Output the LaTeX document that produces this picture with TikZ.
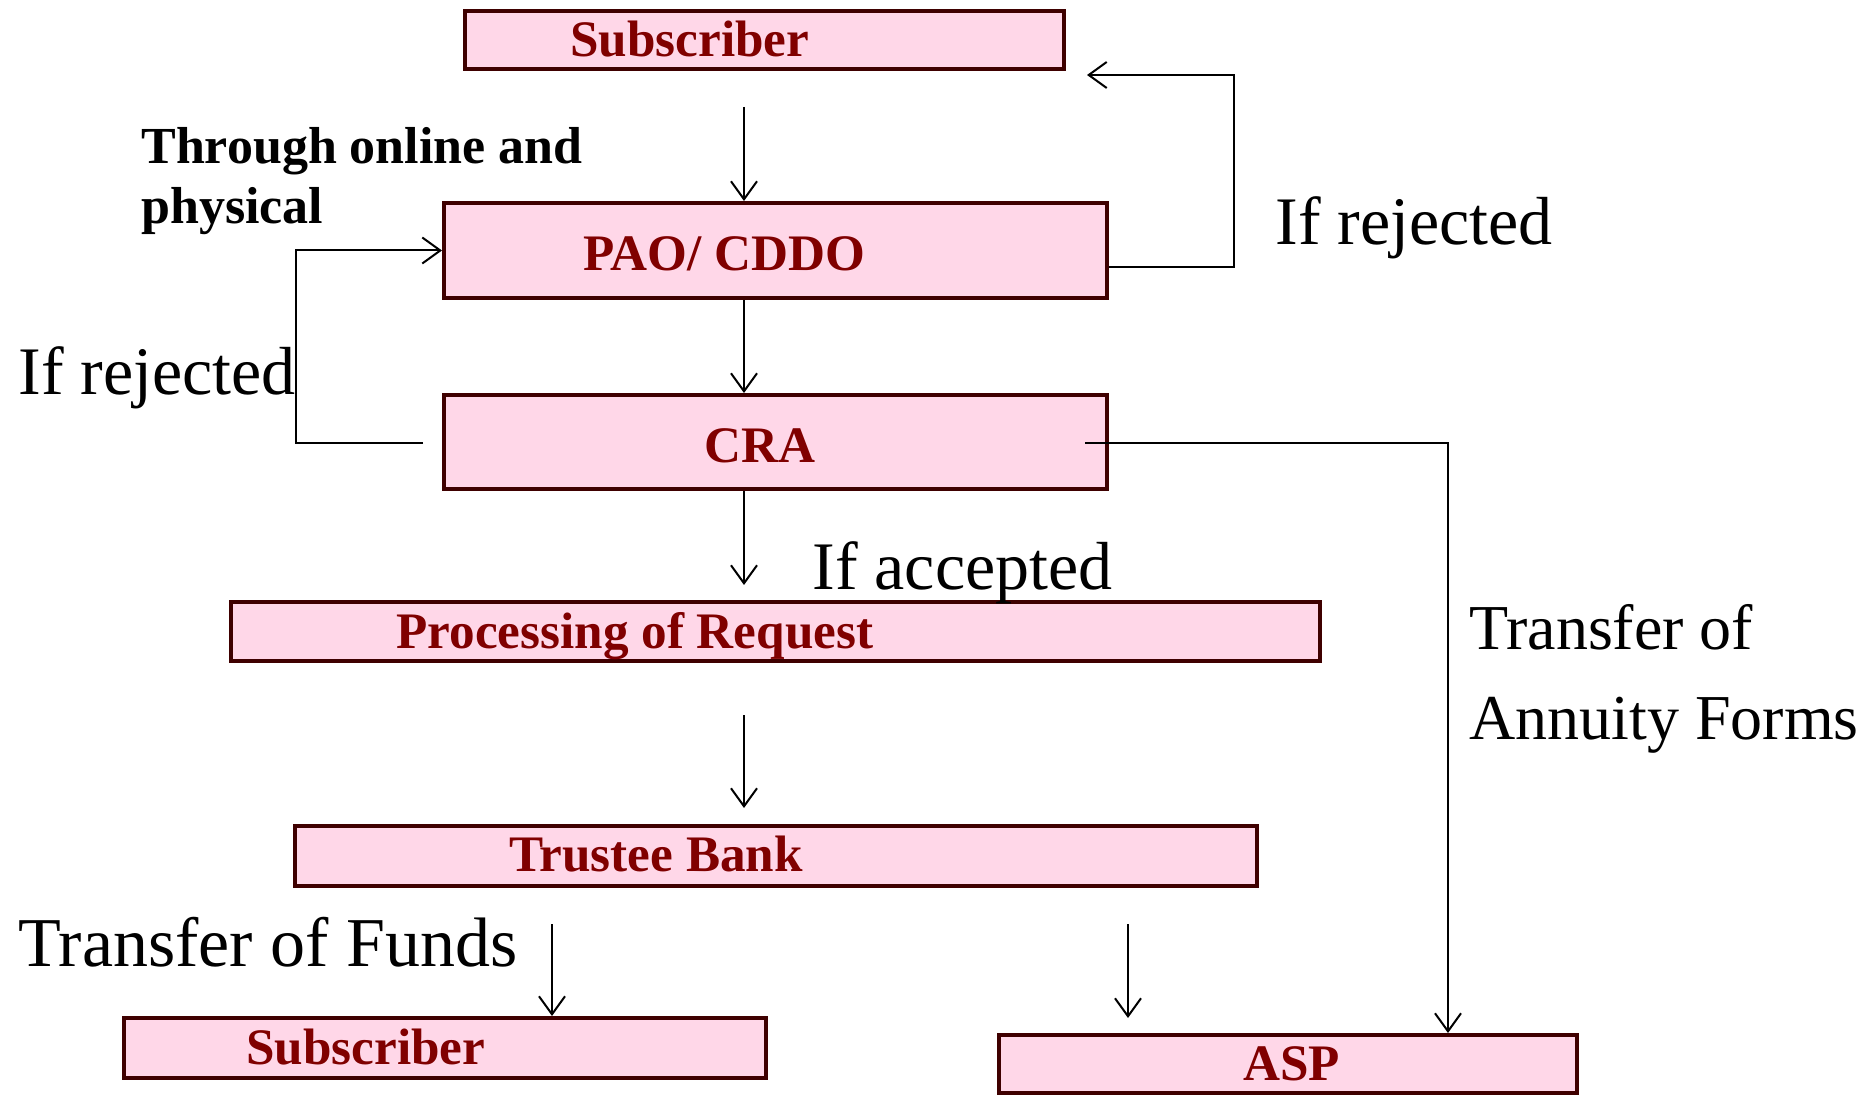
\documentclass[tikz,border=0pt]{standalone}
\usepackage{fontspec}
\setmainfont{Liberation Serif}
\usetikzlibrary{arrows.meta}
\definecolor{boxfill}{HTML}{FFD7E8}
\definecolor{boxline}{HTML}{3F0000}
\definecolor{boxtext}{HTML}{800000}
\begin{document}
\begin{tikzpicture}[x=0.5pt, y=-0.5pt,
  box/.style={draw=boxline, line width=2pt, fill=boxfill, rectangle, inner sep=0pt},
  boxlabel/.style={anchor=base west, inner sep=0pt, text=boxtext,
    font=\fontsize{25.6}{30}\selectfont\bfseries},
  note/.style={anchor=base west, inner sep=0pt, font=\fontsize{34}{40}\selectfont},
  boldnote/.style={anchor=base west, inner sep=0pt, font=\fontsize{26}{30}\selectfont\bfseries},
  flow/.style={line width=1pt, -{Straight Barb[length=9pt,width=13pt]}},
  link/.style={line width=1pt}]
\useasboundingbox (0,0) rectangle (1870,1096);

% boxes
\node[box, minimum width=299.5pt, minimum height=29pt]   (sub1)    at (764.5,40)   {};
\node[box, minimum width=331.5pt, minimum height=47.5pt] (pao)     at (775.5,250.5) {};
\node[box, minimum width=331.5pt, minimum height=47pt]   (cra)     at (775.5,442)  {};
\node[box, minimum width=544.5pt, minimum height=29.5pt] (proc)    at (775.5,631.5) {};
\node[box, minimum width=481pt,   minimum height=30pt]   (trustee) at (776,856)    {};
\node[box, minimum width=321pt,   minimum height=30pt]   (sub2)    at (445,1048)   {};
\node[box, minimum width=289pt,   minimum height=29pt]   (asp)     at (1288,1064)  {};

% box labels
\node[boxlabel] (lsub1)    at (570,57)   {Subscriber};
\node[boxlabel] (lpao)     at (583,271)  {PAO/ CDDO};
\node[boxlabel] (lcra)     at (704,463)  {CRA};
\node[boxlabel] (lproc)    at (396,648)  {Processing of Request};
\node[boxlabel] (ltrustee) at (509,871)  {Trustee Bank};
\node[boxlabel] (lsub2)    at (246,1064) {Subscriber};
\node[boxlabel] (lasp)     at (1243,1080) {ASP};

% annotations
\node[boldnote] (through)  at (141,164) {Through online and};
\node[boldnote] (physical) at (141,224) {physical};
\node[note] (rejR)   at (1275,245) {If rejected};
\node[note] (rejL)   at (18,395)   {If rejected};
\node[note] (acc)    at (812,589)  {If accepted};
\node[note, font=\fontsize{32}{38}\selectfont] (annA) at (1469,649) {Transfer of};
\node[note, font=\fontsize{32}{38}\selectfont] (annB) at (1469,739) {Annuity Forms};
\node[note, font=\fontsize{35}{40}\selectfont] (funds) at (18,966) {Transfer of Funds};

% connector end points
\coordinate (c1) at (744,107);
\coordinate (c2) at (744,585);
\coordinate (c3) at (744,715);
\coordinate (c4) at (744,808);
\coordinate (c5) at (552,924);
\coordinate (c6) at (1128,924);
\coordinate (c7) at (1128,1018);
\coordinate (rfa) at (1234,267);
\coordinate (rfb) at (1234,75);
\coordinate (rfend) at (1087,75);
\coordinate (lfa) at (423,443);
\coordinate (lfb) at (296,443);
\coordinate (lfc) at (296,250.5);
\coordinate (asa) at (1085,443);
\coordinate (asb) at (1448,443);

% main flow
\draw[flow] (c1) -- (c1 |- pao.north);
\draw[flow] (pao.south -| c1) -- (cra.north -| c1);
\draw[flow] (cra.south -| c1) -- (c2);
\draw[flow] (c3) -- (c4);
\draw[flow] (c5) -- (c5 |- sub2.north);
\draw[flow] (c6) -- (c7);

% rejection loops
\draw[flow] (rfa -| pao.east) -- (rfa) -- (rfb) -- (rfend);
\draw[flow] (lfa) -- (lfb) -- (lfc) -- (pao.west);

% annuity forms to ASP
\draw[flow] (asa) -- (asb) -- (asb |- asp.north);
\end{tikzpicture}
\end{document}
